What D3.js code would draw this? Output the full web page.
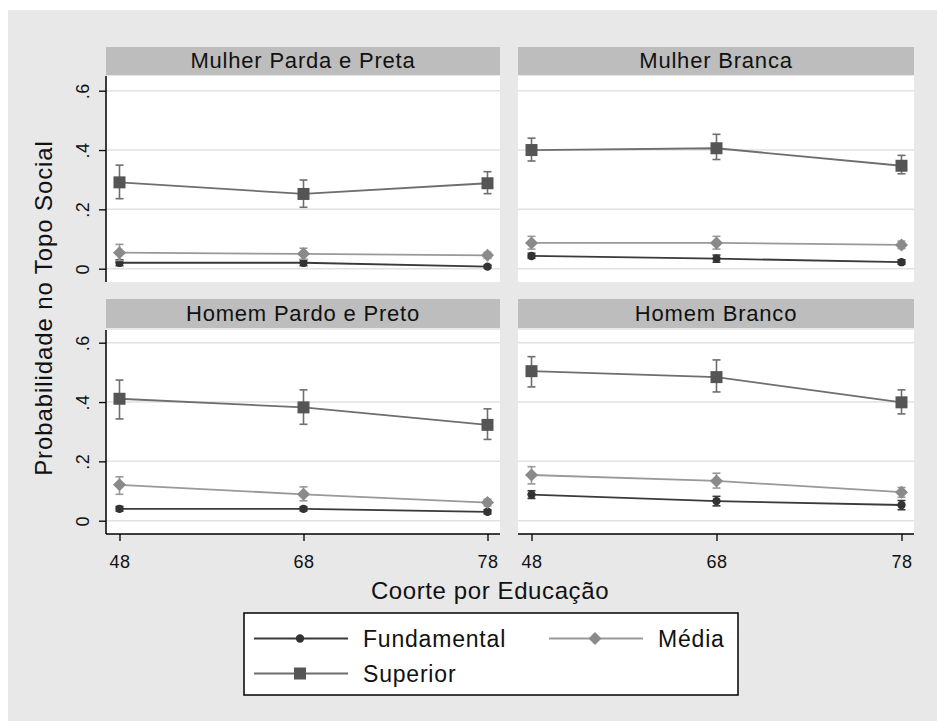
<!DOCTYPE html>
<html><head><meta charset="utf-8">
<script src="https://cdn.jsdelivr.net/npm/d3@7"></script>
<style>
html,body{margin:0;padding:0;background:#fff;}
svg{display:block;font-family:"Liberation Sans",Arial,sans-serif;}
</style></head>
<body>
<svg id="chart" width="937" height="721"></svg>
<script>
// ---- data ----
const cohorts = ["48", "68", "78"];
const panels = ["Mulher Parda e Preta", "Mulher Branca", "Homem Pardo e Preto", "Homem Branco"];
const seriesNames = ["Fundamental", "Média", "Superior"];
const yTicks = [0, 0.2, 0.4, 0.6];
const yTickLabels = ["0", ".2", ".4", ".6"];

// estimates per panel (order of panels) per cohort
const fundamental = [
  [0.020, 0.020, 0.007],
  [0.043, 0.034, 0.022],
  [0.040, 0.040, 0.030],
  [0.088, 0.066, 0.053]
];
const fundamentalLo = [
  [0.010, 0.010, 0.002],
  [0.035, 0.022, 0.015],
  [0.032, 0.033, 0.023],
  [0.075, 0.050, 0.037]
];
const fundamentalHi = [
  [0.030, 0.030, 0.012],
  [0.052, 0.046, 0.030],
  [0.048, 0.047, 0.037],
  [0.101, 0.082, 0.068]
];
const media = [
  [0.054, 0.050, 0.045],
  [0.087, 0.087, 0.080],
  [0.121, 0.089, 0.061],
  [0.154, 0.134, 0.096]
];
const mediaLo = [
  [0.028, 0.032, 0.035],
  [0.066, 0.066, 0.068],
  [0.089, 0.067, 0.050],
  [0.124, 0.110, 0.079]
];
const mediaHi = [
  [0.082, 0.069, 0.055],
  [0.109, 0.109, 0.093],
  [0.148, 0.114, 0.072],
  [0.182, 0.160, 0.112]
];
const superior = [
  [0.291, 0.252, 0.288],
  [0.400, 0.406, 0.347],
  [0.411, 0.382, 0.323],
  [0.504, 0.484, 0.399]
];
const superiorLo = [
  [0.236, 0.207, 0.253],
  [0.363, 0.368, 0.320],
  [0.343, 0.325, 0.274],
  [0.451, 0.434, 0.360]
];
const superiorHi = [
  [0.349, 0.299, 0.327],
  [0.440, 0.453, 0.382],
  [0.474, 0.441, 0.377],
  [0.553, 0.542, 0.441]
];

// ---- drawing ----
const svg = d3.select("#chart");
svg.append("rect").attr("x", 8).attr("y", 10).attr("width", 929).attr("height", 711).attr("fill", "#e8e8e8");

const style = {
  Fundamental: {line: "#3a3a3a", marker: "#333333", shape: "circle"},
  "Média": {line: "#999999", marker: "#8a8a8a", shape: "diamond"},
  Superior: {line: "#6e6e6e", marker: "#555555", shape: "square"}
};
const seriesData = [
  {name: "Fundamental", v: fundamental, lo: fundamentalLo, hi: fundamentalHi},
  {name: "Média", v: media, lo: mediaLo, hi: mediaHi},
  {name: "Superior", v: superior, lo: superiorLo, hi: superiorHi}
];

const cols = [{x0: 106, x1: 500}, {x0: 518, x1: 914}];
const rows = [
  {hy0: 47, hy1: 75, py0: 76, py1: 282, zero: 268.7, six: 90.7},
  {hy0: 299, hy1: 328, py0: 330, py1: 534, zero: 520.7, six: 342.7}
];

function symbolPath(shape) {
  if (shape === "circle") return d3.symbol(d3.symbolCircle, 55)();
  if (shape === "diamond") return "M0,-6.5L6.5,0L0,6.5L-6.5,0Z";
  return "M-6,-6H6V6H-6Z";
}

panels.forEach((title, pi) => {
  const c = cols[pi % 2], r = rows[Math.floor(pi / 2)];
  const g = svg.append("g");
  // header
  g.append("rect").attr("x", c.x0).attr("y", r.hy0).attr("width", c.x1 - c.x0).attr("height", r.hy1 - r.hy0).attr("fill", "#bdbdbd");
  g.append("text").attr("x", (c.x0 + c.x1) / 2).attr("y", (r.hy0 + r.hy1) / 2 + 7)
    .attr("text-anchor", "middle").attr("font-size", 22).attr("letter-spacing", 0.8)
    .attr("fill", "#111").text(title);
  // plot area
  g.append("rect").attr("x", c.x0).attr("y", r.py0).attr("width", c.x1 - c.x0).attr("height", r.py1 - r.py0).attr("fill", "#fff");

  const x = d3.scalePoint().domain(cohorts).range([c.x0 + 13.5, c.x1 - 12.5]);
  const y = d3.scaleLinear().domain([0, 0.6]).range([r.zero, r.six]);

  // gridlines
  g.selectAll(".grid").data(yTicks).enter().append("line")
    .attr("x1", c.x0).attr("x2", c.x1).attr("y1", d => y(d)).attr("y2", d => y(d))
    .attr("stroke", "#e2e2e2").attr("stroke-width", 1.5);

  // series
  seriesData.forEach(s => {
    const st = style[s.name];
    const pts = cohorts.map((k, i) => ({k, v: s.v[pi][i], lo: s.lo[pi][i], hi: s.hi[pi][i]}));
    g.append("path").datum(pts)
      .attr("d", d3.line().x(d => x(d.k)).y(d => y(d.v)))
      .attr("fill", "none").attr("stroke", st.line).attr("stroke-width", 1.8);
    // error bars
    const eb = g.append("g");
    pts.forEach(d => {
      const xx = x(d.k);
      eb.append("line").attr("x1", xx).attr("x2", xx).attr("y1", y(d.lo)).attr("y2", y(d.hi))
        .attr("stroke", st.line).attr("stroke-width", 1.6);
      [d.lo, d.hi].forEach(vv => {
        eb.append("line").attr("x1", xx - 4).attr("x2", xx + 4).attr("y1", y(vv)).attr("y2", y(vv))
          .attr("stroke", st.line).attr("stroke-width", 1.6);
      });
    });
    g.selectAll(null).data(pts).enter().append("path")
      .attr("transform", d => `translate(${x(d.k)},${y(d.v)})`)
      .attr("d", symbolPath(st.shape)).attr("fill", st.marker);
  });

  // y axis (left column)
  if (pi % 2 === 0) {
    const ax = g.append("g").attr("transform", `translate(${c.x0},0)`)
      .call(d3.axisLeft(y).tickValues(yTicks).tickSize(7).tickFormat((d, i) => yTickLabels[i]));
    ax.attr("font-family", null).attr("font-size", null);
    ax.select(".domain").attr("d", `M0,${r.py0}V${r.py1}`).attr("stroke", "#000").attr("stroke-width", 1.5);
    ax.selectAll(".tick line").attr("stroke", "#000").attr("stroke-width", 1.3);
    ax.selectAll(".tick text").attr("font-size", 18).attr("letter-spacing", 0.5).attr("fill", "#111")
      .attr("x", 0).attr("dy", 0).attr("text-anchor", "middle")
      .attr("transform", "translate(-17,0) rotate(-90)");
  }
  // x axis (bottom row)
  if (pi >= 2) {
    const ax = g.append("g").attr("transform", `translate(0,${r.py1})`)
      .call(d3.axisBottom(x).tickSize(7).tickPadding(14));
    ax.attr("font-family", null).attr("font-size", null);
    ax.select(".domain").attr("d", `M${c.x0},0H${c.x1}`).attr("stroke", "#000").attr("stroke-width", 1.5);
    ax.selectAll(".tick line").attr("stroke", "#000").attr("stroke-width", 1.3);
    ax.selectAll(".tick text").attr("font-size", 18).attr("letter-spacing", 0.5).attr("fill", "#111");
  }
});

// axis titles
svg.append("text").attr("x", 490).attr("y", 599).attr("text-anchor", "middle")
  .attr("font-size", 24).attr("letter-spacing", 0.6).attr("fill", "#111").text("Coorte por Educação");
svg.append("text").attr("transform", "translate(52,308) rotate(-90)").attr("text-anchor", "middle")
  .attr("font-size", 24).attr("letter-spacing", 0.9).attr("fill", "#111").text("Probabilidade no Topo Social");

// legend
const lg = svg.append("g");
lg.append("rect").attr("x", 244).attr("y", 613).attr("width", 494).attr("height", 82)
  .attr("fill", "#fff").attr("stroke", "#000").attr("stroke-width", 1.5);
const legPos = [{x: 254, y: 638.5}, {x: 549, y: 638.5}, {x: 254, y: 673.5}];
seriesNames.forEach((n, i) => {
  const st = style[n], p = legPos[i];
  lg.append("line").attr("x1", p.x).attr("x2", p.x + 94).attr("y1", p.y).attr("y2", p.y)
    .attr("stroke", st.line).attr("stroke-width", 1.8);
  lg.append("path").attr("transform", `translate(${p.x + 46},${p.y})`).attr("d", symbolPath(st.shape)).attr("fill", st.marker);
  lg.append("text").attr("x", p.x + 109).attr("y", p.y + 8.5)
    .attr("font-size", 23).attr("letter-spacing", 0.8).attr("fill", "#111").text(n);
});
</script>
</body></html>
